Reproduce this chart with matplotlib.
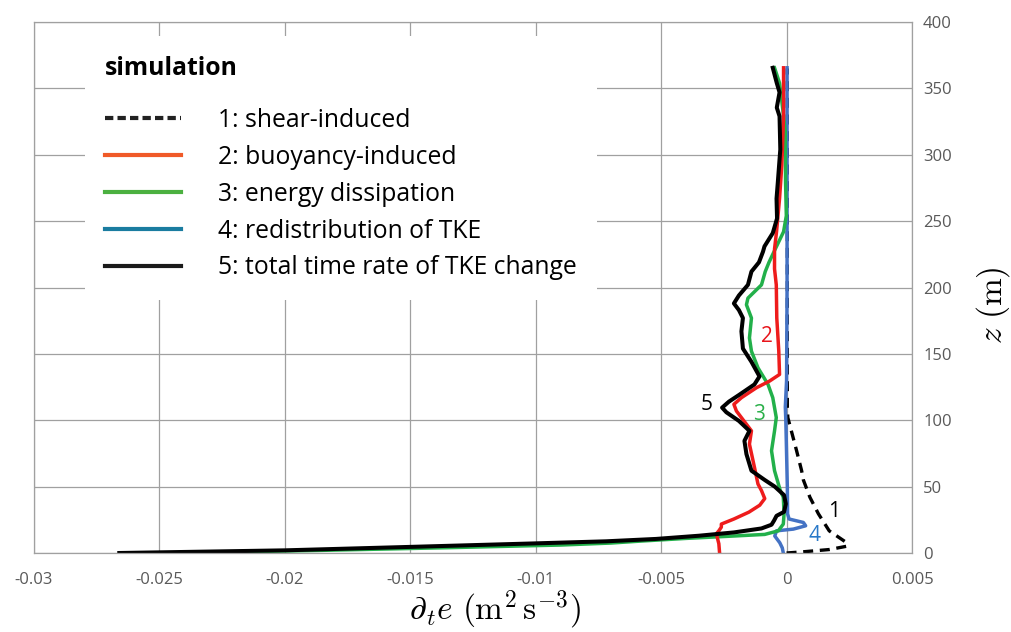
import matplotlib
matplotlib.use("Agg")
import matplotlib.pyplot as plt
from matplotlib.lines import Line2D
from matplotlib.ticker import FuncFormatter, MultipleLocator

plt.rcParams['font.family'] = ['Open Sans', 'DejaVu Sans']
plt.rcParams['mathtext.fontset'] = 'cm'
plt.rcParams['axes.unicode_minus'] = False

# profiles: height z (m) and rate (m^2 s^-3)
z_shear = [0, 0.8, 2.6, 5.1, 7.7, 16.7, 29.5, 42, 55, 62, 77, 92, 102, 110, 200, 365]
x_shear = [0.0, 0.0006, 0.0017, 0.0024, 0.0024, 0.0017, 0.00127, 0.00093, 0.00067,
           0.0006, 0.0004, 0.00019, 0.00005, 0.00003, 0.00003, 0.00003]

z_buoy = [0, 7, 14.5, 16.7, 19.5, 21.8, 25.6, 30.8, 36, 41, 47, 52, 64.5, 82, 92, 97,
          107, 112, 117, 124.5, 129.5, 134.5, 152, 177, 202, 214, 229, 242, 267, 292,
          329, 365.5]
x_buoy = [-0.00267, -0.0027, -0.0028, -0.0027, -0.0026, -0.0026, -0.0021, -0.0015,
          -0.00107, -0.00087, -0.001, -0.00114, -0.00128, -0.00148, -0.0014, -0.0016,
          -0.002, -0.0021, -0.0018, -0.0012, -0.00068, -0.00028, -0.00031, -0.00039,
          -0.00041, -0.00048, -0.00048, -0.0004, -0.00028, -0.00019, -0.00012, -0.00012]

z_diss = [0, 2, 4, 6, 7.5, 9, 11, 12.8, 14, 16.7, 21.8, 29.5, 42, 47, 62, 77, 92, 102,
          117, 127, 139.5, 152, 162, 177, 187, 192, 202, 212, 219, 229, 242, 254, 279,
          317, 334, 354, 365.5]
x_diss = [-0.0245, -0.0185, -0.0135, -0.009, -0.007, -0.0058, -0.004, -0.0021, -0.00087,
          -0.00033, -0.00013, -0.0001, -0.00013, -0.00025, -0.00048, -0.0006, -0.00048,
          -0.00041, -0.00055, -0.00074, -0.00114, -0.0014, -0.00148, -0.0014, -0.0016,
          -0.00154, -0.001, -0.00085, -0.0007, -0.00045, -0.00012, -0.00001, -0.00004,
          -0.00005, -0.00015, -0.00028, -0.00048]

z_redis = [0, 3.8, 7.7, 12.8, 16.7, 18, 20.5, 23, 25.6, 29.5, 50, 100, 110, 130, 200,
           300, 365.5]
x_redis = [-0.00013, -0.00017, -0.00027, -0.00047, -0.0004, 0.00027, 0.00076, 0.00067,
           0.0001, 0.00004, 0.00003, -0.00003, -0.00005, 0.0, 0.00002, 0.00002, 0.00002]

z_total = [0, 2, 4.6, 7.2, 8.8, 10.6, 13, 15.5, 18.5, 21.3, 24.4, 28, 31, 37, 43.6, 50, 55,
           62, 74.5, 84.5, 92, 99.5, 106, 109.5, 114, 119, 127, 133, 144, 154, 167, 177,
           183, 188, 194, 202, 212, 219, 227, 231, 241, 252, 267, 279, 304, 329, 335.5,
           347, 354, 365.5]
x_total = [-0.0266, -0.02, -0.015, -0.0101, -0.0072, -0.0052, -0.0035, -0.0021, -0.001,
           -0.0006, -0.0005, -0.0004, -0.0001, -0.00003, -0.0001, -0.00047, -0.00087,
           -0.0014, -0.0016, -0.00168, -0.00148, -0.0019, -0.0024, -0.00257, -0.0023,
           -0.0019, -0.00128, -0.00108, -0.0014, -0.00174, -0.0018, -0.00174, -0.0019,
           -0.0021, -0.0019, -0.00154, -0.0014, -0.0011, -0.00094, -0.00088, -0.00055,
           -0.00038, -0.0004, -0.00035, -0.00025, -0.00028, -0.00039, -0.00028, -0.00039,
           -0.00055]

legend_labels = ['1: shear-induced', '2: buoyancy-induced', '3: energy dissipation',
                 '4: redistribution of TKE', '5: total time rate of TKE change']

fig = plt.figure(figsize=(10.11, 6.32), dpi=100)
ax = fig.add_axes([34 / 1011, 79 / 632, 878 / 1011, 531 / 632])

ax.plot(x_shear, z_shear, color='black', lw=2.4, ls=(0, (3, 2)))
ax.plot(x_redis, z_redis, color='#4472C4', lw=2.5)
ax.plot(x_diss, z_diss, color='#22B04A', lw=2.5)
ax.plot(x_buoy, z_buoy, color='#EE1C1C', lw=2.5)
ax.plot(x_total, z_total, color='black', lw=2.9)

# curve numbers
ax.text(0.0019, 31, '1', color='black', fontsize=15, ha='center', va='center')
ax.text(-0.0008, 163, '2', color='#E8141B', fontsize=15, ha='center', va='center')
ax.text(-0.0011, 104, '3', color='#2BB04A', fontsize=15, ha='center', va='center')
ax.text(0.0011, 13, '4', color='#2878C8', fontsize=15, ha='center', va='center')
ax.text(-0.0032, 112, '5', color='black', fontsize=15, ha='center', va='center')

ax.set_xlim(-0.03, 0.005)
ax.set_ylim(0, 400)
ax.xaxis.set_major_locator(MultipleLocator(0.005))
ax.yaxis.set_major_locator(MultipleLocator(50))
ax.xaxis.set_major_formatter(FuncFormatter(lambda v, p: '{:g}'.format(round(v, 4)) if abs(v) > 1e-9 else '0'))
ax.grid(True, color='#A0A0A0', lw=0.9)
ax.set_axisbelow(True)
for s in ax.spines.values():
    s.set_color('#A0A0A0')
    s.set_linewidth(0.9)

ax.yaxis.tick_right()
ax.yaxis.set_label_position('right')
ax.tick_params(axis='both', length=0, labelsize=12, labelcolor='#595959', colors='#595959')
ax.tick_params(axis='x', pad=14)
ax.tick_params(axis='y', pad=8)

ax.set_xlabel(r'$\partial_t e\ (\mathrm{m}^2\,\mathrm{s}^{-3})$', fontsize=24)
ax.xaxis.set_label_coords(0.525, -0.066)
ax.set_ylabel(r'$z\ (\mathrm{m})$', fontsize=24, rotation=90)
ax.yaxis.set_label_coords(1.071, 0.466)

handles = [
    Line2D([], [], color='#222222', lw=3, ls=(0, (2, 1))),
    Line2D([], [], color='#F05A28', lw=3),
    Line2D([], [], color='#4BB040', lw=3),
    Line2D([], [], color='#1A7CA0', lw=3),
    Line2D([], [], color='#1A1A1A', lw=3),
]
fs = 17.8
leg = ax.legend(handles, legend_labels, title='simulation', loc='upper left',
                bbox_to_anchor=(39 / 878, 0.997), frameon=True, framealpha=1,
                edgecolor='none', facecolor='white', fancybox=False,
                fontsize=fs, title_fontproperties={'weight': 'bold', 'size': fs},
                handlelength=3.05, handletextpad=1.53, labelspacing=0.48,
                alignment='left', borderpad=0.8)
leg._legend_box.sep = 19.6

fig.savefig('out.png', dpi=100)
